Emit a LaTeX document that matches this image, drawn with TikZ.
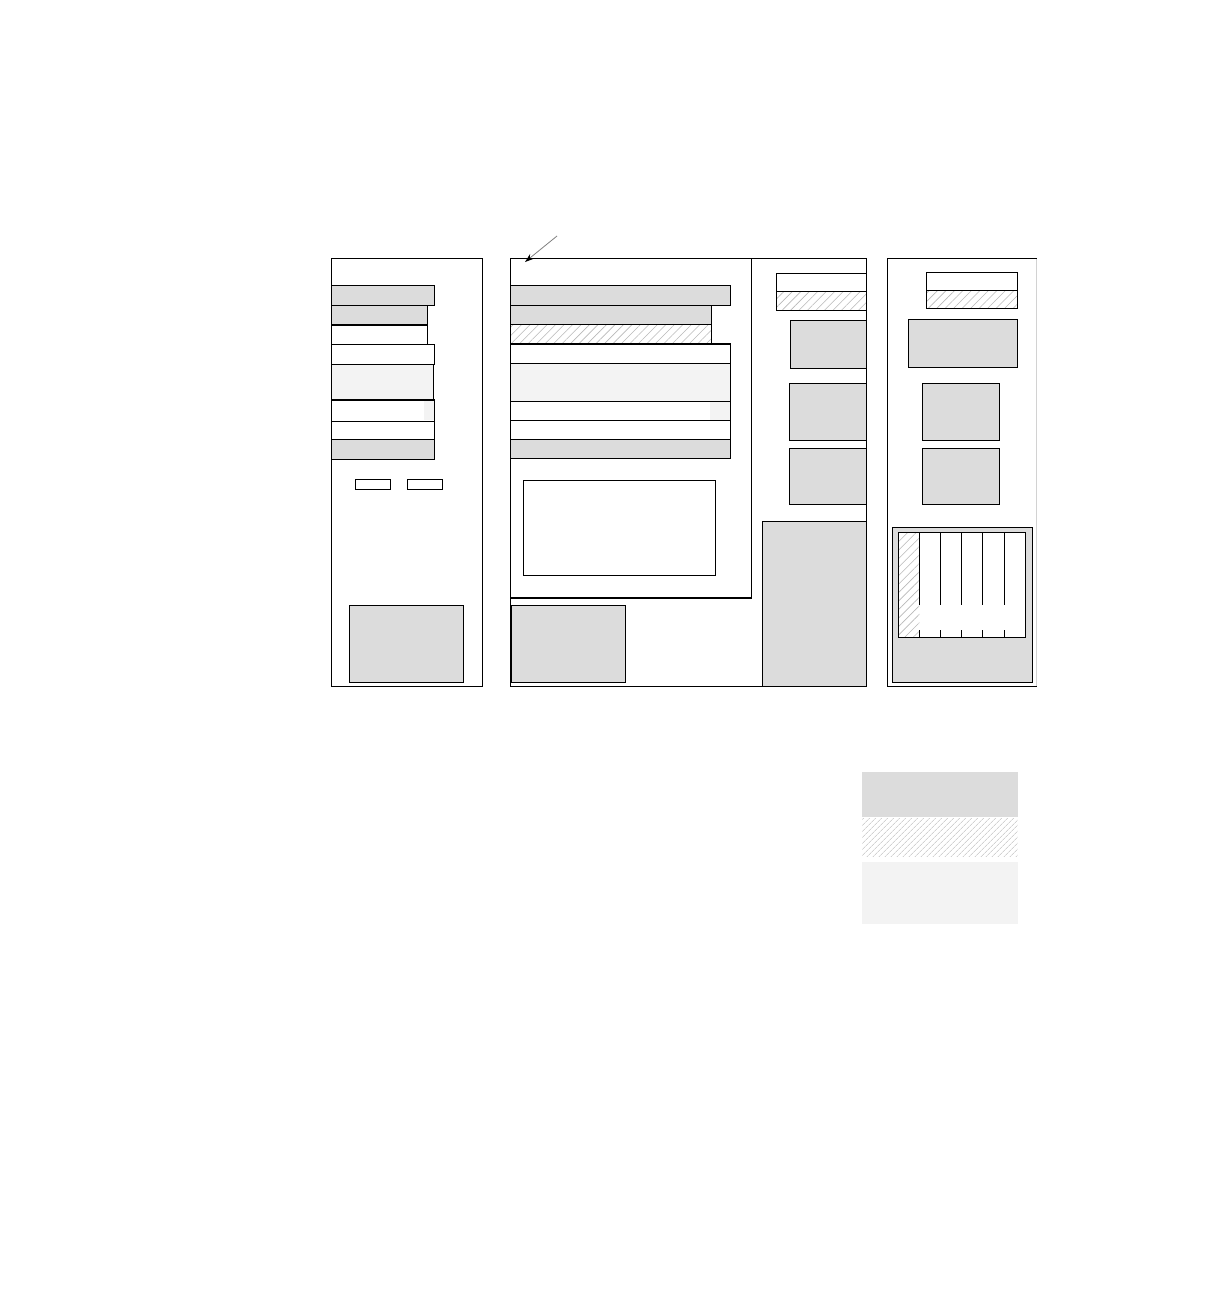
\documentclass[tikz,border=0pt]{standalone}
\usetikzlibrary{patterns.meta,arrows.meta}
\definecolor{boxgray}{RGB}{220,220,220}
\definecolor{dotgray}{RGB}{243,243,243}
\definecolor{hatchgray}{RGB}{185,185,185}
\tikzset{
  frame/.style={draw=black,line width=1.25pt},
  graybox/.style={draw=black,line width=1.25pt,fill=boxgray},
  whitebox/.style={draw=black,line width=1.25pt,fill=white},
  dotbox/.style={draw=black,line width=1.25pt,fill=dotgray},
  hatchbox/.style={draw=black,line width=1.25pt,pattern={Lines[angle=45,distance=6pt,line width=0.6pt]},pattern color=hatchgray},
  legendgray/.style={fill=boxgray},
  legendhatch/.style={pattern={Lines[angle=45,distance=4pt,line width=0.6pt]},pattern color=hatchgray},
  legenddot/.style={fill=dotgray},
  pointer/.style={draw=gray,line width=0.8pt,-{Stealth[length=9pt,width=6pt,color=black,fill=black]}}
}
\begin{document}
\begin{tikzpicture}[x=1pt,y=-1pt]
\useasboundingbox[fill=white] (0,0) rectangle (1224,1296);

% ---------- left panel ----------
\draw[frame] (331.5,258.5) rectangle (482.5,686.5);
\draw[graybox]  (331.5,285.3) rectangle (434.3,305.3);
\draw[graybox]  (331.5,305.3) rectangle (427.3,325);
\draw[whitebox] (331.5,325)   rectangle (427.3,344.3);
\draw[whitebox] (331.5,344.3) rectangle (434.3,364.3);
\draw[dotbox]   (331.5,364.3) rectangle (433.3,400);
\fill[dotgray]  (424,401) rectangle (433.5,420.3);
\draw[frame]    (331.5,400)   rectangle (434.3,421.3);
\draw[whitebox] (331.5,421.3) rectangle (434.3,439.3);
\draw[graybox]  (331.5,439.3) rectangle (434.3,459.3);
\draw[whitebox,line width=1.1pt] (355.3,479.3) rectangle (390.7,489.7);
\draw[whitebox,line width=1.1pt] (407.3,479.3) rectangle (442.7,489.7);
\draw[graybox]  (349.3,605.3) rectangle (463.7,682.3);

% ---------- middle panel ----------
\draw[frame] (510.3,258.5) rectangle (866.3,686.3);
\draw[frame] (510.3,258.5) rectangle (751.3,598);
\draw[graybox]  (510.3,285.3) rectangle (730.3,305.3);
\draw[graybox]  (510.3,305.3) rectangle (711.3,324.3);
\draw[hatchbox] (510.3,324.3) rectangle (711.3,344);
\draw[whitebox] (510.3,344)   rectangle (730.3,363.3);
\draw[dotbox]   (510.3,363.3) rectangle (730.3,401.3);
\fill[dotgray]  (710,402.3) rectangle (729.5,419.5);
\draw[frame]    (510.3,401.3) rectangle (730.3,420.3);
\draw[whitebox] (510.3,420.3) rectangle (730.3,439.3);
\draw[graybox]  (510.3,439.3) rectangle (730.3,458.7);
\draw[whitebox] (523.3,480.3) rectangle (715.7,575.3);
\draw[graybox]  (511.3,605.3) rectangle (625.3,682.3);
% right column of middle panel
\draw[whitebox] (776.3,273.3) rectangle (866.3,291.3);
\draw[hatchbox] (776.3,291.3) rectangle (866.3,310.3);
\draw[graybox]  (790.3,320.3) rectangle (866.3,368.3);
\draw[graybox]  (789.3,383.3) rectangle (866.3,440.3);
\draw[graybox]  (789.3,448.3) rectangle (866.3,504.3);
\draw[graybox]  (762.3,521.3) rectangle (866.3,686.3);
% pointer
\coordinate (ptail) at (557,236);
\coordinate (phead) at (525,262);
\draw[pointer] (ptail) -- (phead);

% ---------- right panel ----------
\draw[draw=gray!35,line width=1.2pt] (1036.7,258.3) -- (1036.7,686.7);
\draw[frame] (1036.7,258.3) -- (887.3,258.3) -- (887.3,686.7) -- (1036.7,686.7);
\draw[whitebox] (926.3,272.3) rectangle (1017.3,290.3);
\draw[hatchbox] (926.3,290.3) rectangle (1017.3,308.3);
\draw[graybox]  (908.3,319.3) rectangle (1017.3,367.3);
\draw[graybox]  (922.3,383.3) rectangle (999.3,440.3);
\draw[graybox]  (922.3,448.3) rectangle (999.3,504.3);
\draw[graybox]  (892.3,527.3) rectangle (1032.3,682.3);
\draw[whitebox] (898.3,532.3) rectangle (1025.3,637.3);
\fill[pattern={Lines[angle=45,distance=6pt,line width=0.6pt]},pattern color=hatchgray] (899,533) rectangle (919.3,636.5);
\draw[frame] (898.3,532.3) rectangle (1025.3,637.3);
\foreach \x in {919.3,940.3,961.3,982.3,1004.3}{
  \draw[line width=1.1pt] (\x,532.3) -- (\x,605);
  \draw[line width=1.1pt] (\x,630) -- (\x,637.3);
}

% ---------- legend ----------
\fill[legendgray]  (862,772)   rectangle (1017.7,816.7);
\fill[legendhatch] (862,818.3) rectangle (1017.7,856.7);
\fill[legenddot]   (862,861.7) rectangle (1017.7,924);
\end{tikzpicture}
\end{document}
